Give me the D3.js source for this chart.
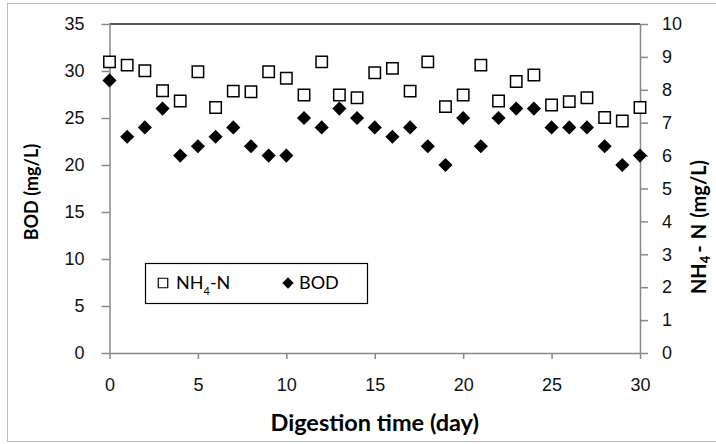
<!DOCTYPE html>
<html>
<head>
<meta charset="utf-8">
<script src="https://cdn.jsdelivr.net/npm/d3@7"></script>
<style>
  body { margin: 0; background: #fff; }
  svg { font-family: Lato, "Open Sans", sans-serif; }
</style>
</head>
<body>
<div id="chart"></div>
<script>
const days = d3.range(0, 31);
const bod = [29, 23, 24, 26, 21, 22, 23, 24, 22, 21, 21, 25, 24, 26, 25, 24,
  23, 24, 22, 20, 25, 22, 25, 26, 26, 24, 24, 24, 22, 20, 21];
const nh4 = [8.85, 8.75, 8.58, 7.97, 7.66, 8.55, 7.46, 7.96, 7.94, 8.55, 8.35,
  7.84, 8.85, 7.84, 7.76, 8.52, 8.65, 7.96, 8.85, 7.49, 7.84, 8.75, 7.66, 8.25,
  8.45, 7.54, 7.64, 7.76, 7.16, 7.05, 7.46];
const xTicks = [0, 5, 10, 15, 20, 25, 30];
const leftTicks = [0, 5, 10, 15, 20, 25, 30, 35];
const rightTicks = d3.range(0, 11);

const width = 716, height = 444;
const margin = {top: 24, right: 76, bottom: 91, left: 109.5};

const svg = d3.select('#chart').append('svg')
  .attr('width', width)
  .attr('height', height);

// outer frame
svg.append('rect')
  .attr('x', 7.5).attr('y', 3.5)
  .attr('width', 720).attr('height', 438)
  .attr('fill', 'none')
  .attr('stroke', '#bbb');

var x = d3.scaleLinear().domain([0, 30]).range([margin.left, width - margin.right]);
var yL = d3.scaleLinear().domain([0, 35]).range([height - margin.bottom, margin.top]);
var yR = d3.scaleLinear().domain([0, 10]).range([height - margin.bottom, margin.top]);

// top border
svg.append('line')
  .attr('x1', x(0)).attr('x2', x(30))
  .attr('y1', yL(35)).attr('y2', yL(35))
  .attr('stroke', '#222').attr('stroke-width', 1.5);

function styleAxis(g) {
  g.selectAll('path, line').attr('stroke', '#888').attr('stroke-width', 1.5);
  g.selectAll('text').attr('fill', '#111').style('font-size', '18px');
}

svg.append('g')
  .attr('transform', 'translate(0,' + yL(0) + ')')
  .call(d3.axisBottom(x).tickValues(xTicks).tickSize(6).tickSizeOuter(0).tickPadding(19))
  .call(styleAxis);

svg.append('g')
  .attr('transform', 'translate(' + x(0) + ',0)')
  .call(d3.axisLeft(yL).tickValues(leftTicks).tickSize(8).tickSizeOuter(0).tickPadding(17))
  .call(styleAxis);

svg.append('g')
  .attr('transform', 'translate(' + x(30) + ',0)')
  .call(d3.axisRight(yR).tickValues(rightTicks).tickSize(8).tickSizeOuter(0).tickPadding(14))
  .call(styleAxis);

// markers
var square = d3.symbol().type(d3.symbolSquare).size(130);
var diamond = d3.symbol().type(d3.symbolSquare).size(100);

svg.append('g').selectAll('path')
  .data(days)
  .join('path')
  .attr('transform', function(d, i) { return 'translate(' + x(d) + ',' + yR(nh4[i]) + ')'; })
  .attr('d', square)
  .attr('fill', '#fff')
  .attr('stroke', '#000')
  .attr('stroke-width', 1.5);

svg.append('g').selectAll('path')
  .data(days)
  .join('path')
  .attr('transform', function(d, i) { return 'translate(' + x(d) + ',' + yL(bod[i]) + ') rotate(45)'; })
  .attr('d', diamond)
  .attr('fill', '#000');

// axis titles
svg.append('text')
  .attr('x', (x(0) + x(30)) / 2).attr('y', 431)
  .attr('text-anchor', 'middle')
  .style('font-size', '23.5px').style('font-weight', 'bold')
  .text('Digestion time (day)');

svg.append('text')
  .attr('transform', 'translate(38,192) rotate(-90)')
  .attr('text-anchor', 'middle')
  .style('font-size', '18px').style('font-weight', 'bold')
  .text('BOD (mg/L)');

var rt = svg.append('text')
  .attr('transform', 'translate(706,227) rotate(-90)')
  .attr('text-anchor', 'middle')
  .style('font-size', '20px').style('font-weight', 'bold');
rt.append('tspan').text('NH');
rt.append('tspan').attr('dy', 4).style('font-size', '13px').text('4');
rt.append('tspan').attr('dy', -4).attr('dx', 3).text('-');
rt.append('tspan').attr('dx', 6).text('N');
rt.append('tspan').attr('dx', 6).text('(mg/L)');

// legend
var lg = svg.append('g');
lg.append('rect')
  .attr('x', 145.5).attr('y', 263.5)
  .attr('width', 222).attr('height', 40)
  .attr('fill', '#fff').attr('stroke', '#000').attr('stroke-width', 1.2);
lg.append('path')
  .attr('transform', 'translate(163,283)')
  .attr('d', d3.symbol().type(d3.symbolSquare).size(90))
  .attr('fill', '#fff').attr('stroke', '#000').attr('stroke-width', 1.2);
var lt = lg.append('text').attr('x', 176).attr('y', 289).style('font-size', '18px');
lt.append('tspan').text('NH');
lt.append('tspan').attr('dy', 6).style('font-size', '11px').text('4');
lt.append('tspan').attr('dy', -6).text('-N');
lg.append('path')
  .attr('transform', 'translate(288,283) rotate(45)')
  .attr('d', d3.symbol().type(d3.symbolSquare).size(64))
  .attr('fill', '#000');
lg.append('text').attr('x', 299).attr('y', 289).style('font-size', '18px').text('BOD');
</script>
</body>
</html>
